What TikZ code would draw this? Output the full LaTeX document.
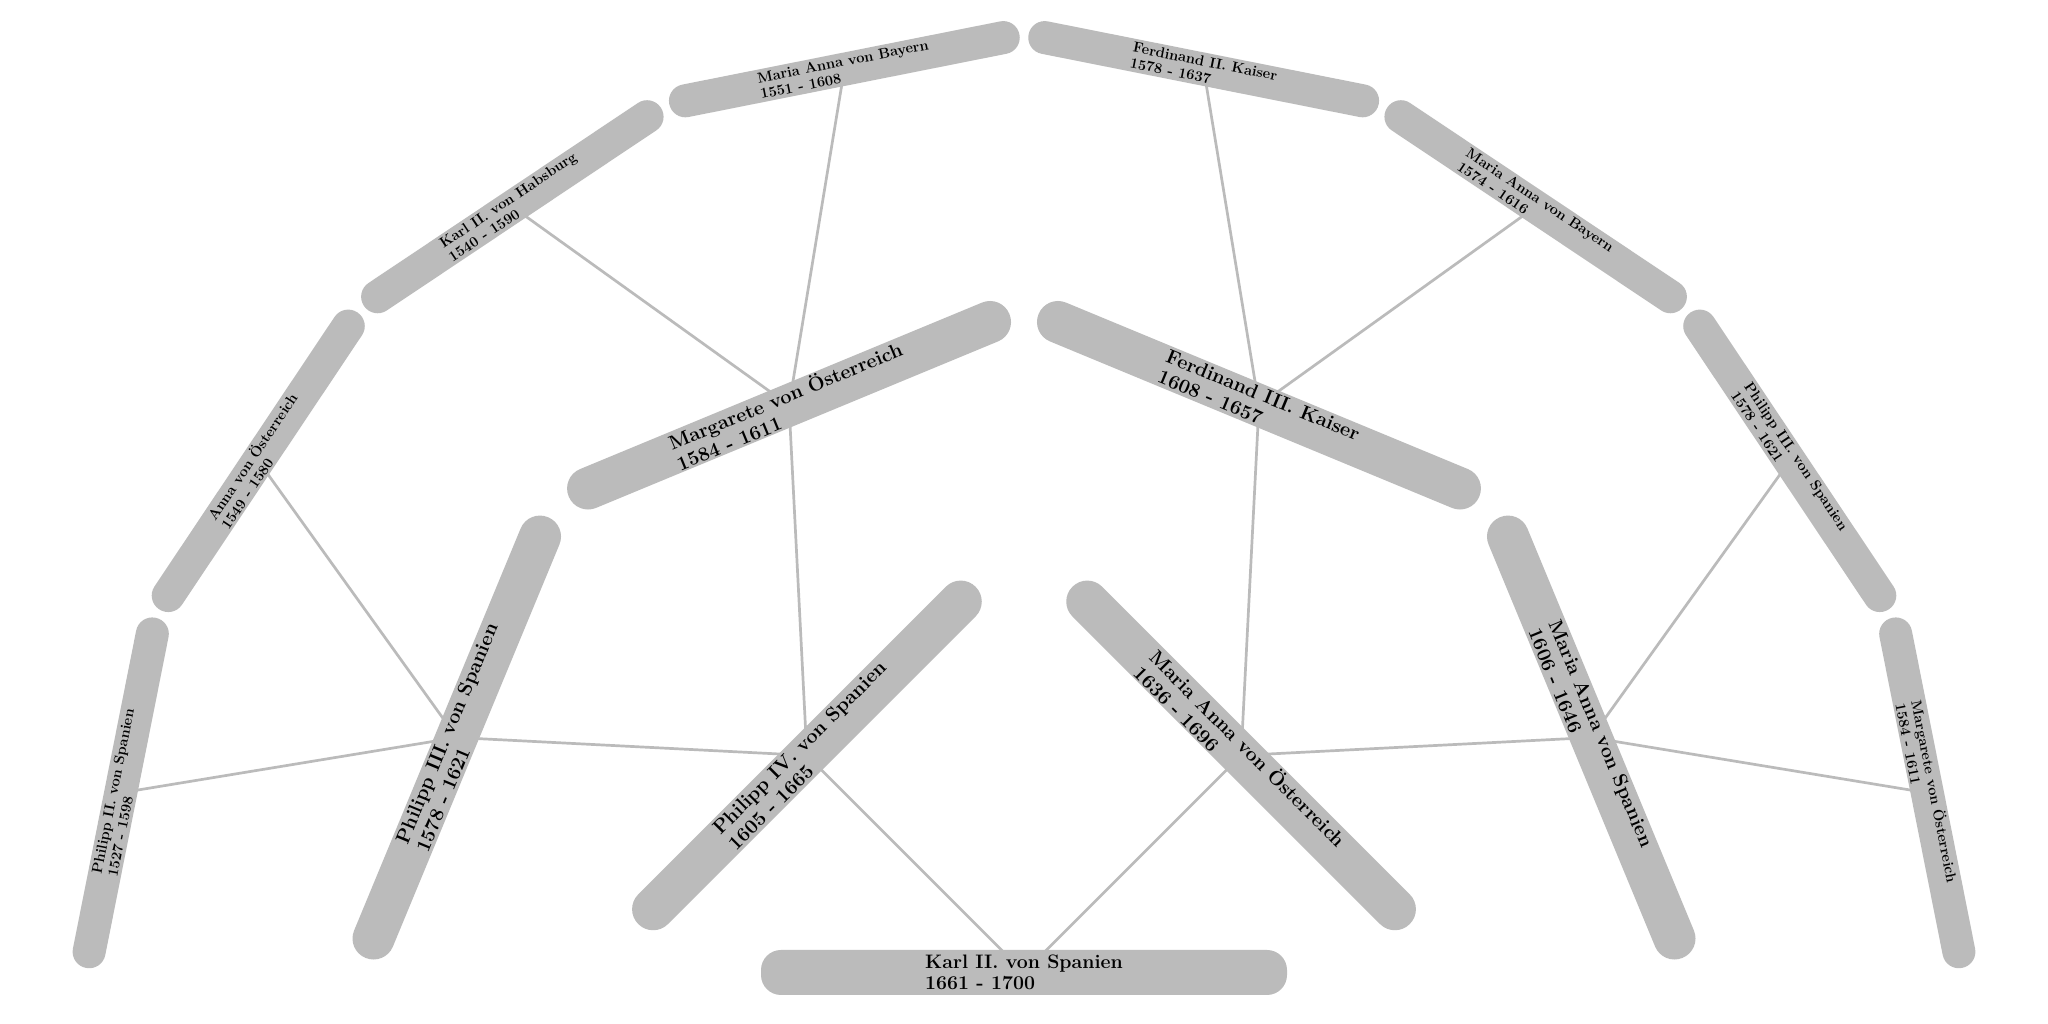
\documentclass[tikz,border=0pt]{standalone}
\usepackage{fontspec}
\usetikzlibrary{backgrounds}
\definecolor{barg}{HTML}{BBBBBB}
\definecolor{lineg}{HTML}{BBBBBB}
\tikzset{
  barbase/.style={fill=barg, draw=none, inner sep=0pt, align=left, text=black},
  rootbar/.style={barbase, minimum width=526pt, minimum height=45pt, rounded corners=20pt,
    font=\bfseries\fontsize{19.5}{21}\selectfont},
  midbar/.style={barbase, minimum width=477pt, minimum height=42pt, rounded corners=20.9pt,
    font=\bfseries\fontsize{19.8}{22}\selectfont},
  outbar/.style={barbase, minimum width=357pt, minimum height=33pt, rounded corners=16.4pt,
    font=\bfseries\fontsize{14.6}{16}\selectfont},
  link/.style={draw=lineg, line width=2.7pt}
}
\begin{document}
\begin{tikzpicture}[x=1pt,y=1pt]
\useasboundingbox (0,0) rectangle (2048,1024);
\begin{scope}[shift={(1024,51.5)}]
  \node[rootbar] (k) at (0,0) {Karl II. von Spanien\\1661 - 1700};
  \node[midbar, rotate=45] (f) at (135:307) {Philipp IV. von Spanien\\1605 - 1665};
  \node[midbar, rotate=-45] (m) at (45:307) {Maria Anna von Österreich\\1636 - 1696};
  \node[midbar, rotate=67.5] (ff) at (157.5:614) {Philipp III. von Spanien\\1578 - 1621};
  \node[midbar, rotate=22.5] (fm) at (112.5:614) {Margarete von Österreich\\1584 - 1611};
  \node[midbar, rotate=-22.5] (mf) at (67.5:614) {Ferdinand III. Kaiser\\1608 - 1657};
  \node[midbar, rotate=-67.5] (mm) at (22.5:614) {Maria Anna von Spanien\\1606 - 1646};
  \node[outbar, rotate=78.75] (fff) at (168.75:921) {Philipp II. von Spanien\\1527 - 1598};
  \node[outbar, rotate=56.25] (ffm) at (146.25:921) {Anna von Österreich\\1549 - 1580};
  \node[outbar, rotate=33.75] (fmf) at (123.75:921) {Karl II. von Habsburg\\1540 - 1590};
  \node[outbar, rotate=11.25] (fmm) at (101.25:921) {Maria Anna von Bayern\\1551 - 1608};
  \node[outbar, rotate=-11.25] (mff) at (78.75:921) {Ferdinand II. Kaiser\\1578 - 1637};
  \node[outbar, rotate=-33.75] (mfm) at (56.25:921) {Maria Anna von Bayern\\1574 - 1616};
  \node[outbar, rotate=-56.25] (mmf) at (33.75:921) {Philipp III. von Spanien\\1578 - 1621};
  \node[outbar, rotate=-78.75] (mmm) at (11.25:921) {Margarete von Österreich\\1584 - 1611};
\end{scope}
\begin{scope}[on background layer]
  \fill[white] (0,0) rectangle (2048,1024);
  \draw[link] (k.center) -- (f.center);
  \draw[link] (k.center) -- (m.center);
  \draw[link] (f.center) -- (ff.center);
  \draw[link] (f.center) -- (fm.center);
  \draw[link] (m.center) -- (mf.center);
  \draw[link] (m.center) -- (mm.center);
  \draw[link] (ff.center) -- (fff.center);
  \draw[link] (ff.center) -- (ffm.center);
  \draw[link] (fm.center) -- (fmf.center);
  \draw[link] (fm.center) -- (fmm.center);
  \draw[link] (mf.center) -- (mff.center);
  \draw[link] (mf.center) -- (mfm.center);
  \draw[link] (mm.center) -- (mmf.center);
  \draw[link] (mm.center) -- (mmm.center);
\end{scope}
\end{tikzpicture}
\end{document}
